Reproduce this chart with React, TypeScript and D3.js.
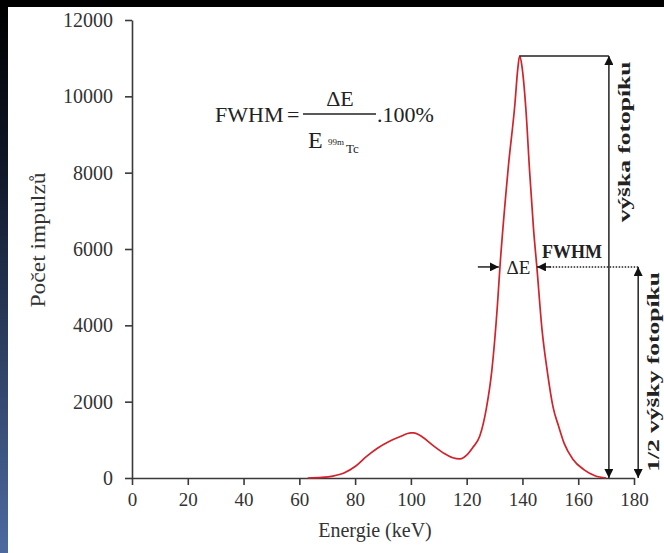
import { useEffect, useRef } from "react";
import * as d3 from "d3";

// spectrum of 99mTc photopeak (keV, counts)
const energy = [63, 68, 72, 76, 80, 84, 88, 92, 96, 100, 101, 104, 108, 112, 115, 117.6, 120, 122.2, 124.7, 127, 129, 131, 132, 134, 135, 137.3, 138.3, 139, 139.8, 141.2, 142.6, 144, 145.2, 147, 149, 151, 153, 155, 158, 162, 166, 170];
const counts = [0, 15, 50, 130, 300, 560, 780, 950, 1080, 1180, 1180, 1080, 850, 640, 530, 500, 600, 800, 1100, 1800, 2800, 4500, 5600, 7400, 8200, 9800, 10700, 11060, 10800, 9700, 8000, 6500, 5500, 3900, 2750, 1850, 1350, 900, 500, 220, 60, 0];

const xTicks = [0, 20, 40, 60, 80, 100, 120, 140, 160, 180];
const yTicks = [0, 2000, 4000, 6000, 8000, 10000, 12000];

const peakEnergy = 139;
const peakCount = 11060;
const halfCount = 5530;
const fwhmLeft = 131.9;
const fwhmRight = 145.2;
const heightArrowE = 171;
const halfArrowE = 181.5;

const serif = "'Liberation Serif', 'Times New Roman', serif";

const App = () => {
  const svgRef = useRef(null);

  useEffect(() => {
    const width = 664;
    const height = 553;

    const svg = d3.select(svgRef.current);
    svg.selectAll("*").remove();

    const x = d3.scaleLinear().domain([0, 180]).range([132, 634]);
    const y = d3.scaleLinear().domain([0, 12000]).range([478, 20]);

    // frame: black top band and gradient strip on the left
    const defs = svg.append("defs");
    const grad = defs.append("linearGradient")
      .attr("id", "side").attr("x1", 0).attr("y1", 0).attr("x2", 0).attr("y2", 1);
    grad.append("stop").attr("offset", "0%").attr("stop-color", "#000");
    grad.append("stop").attr("offset", "30%").attr("stop-color", "#10182a");
    grad.append("stop").attr("offset", "100%").attr("stop-color", "#4d6aa0");

    const mk = (id, dir) => {
      const m = defs.append("marker")
        .attr("id", id)
        .attr("viewBox", "0 0 10 10")
        .attr("refX", 10).attr("refY", 5)
        .attr("markerWidth", 9).attr("markerHeight", 9)
        .attr("markerUnits", "userSpaceOnUse")
        .attr("orient", dir);
      m.append("path").attr("d", "M0,0L10,5L0,10Z").attr("fill", "#111");
    };
    mk("arrEnd", "auto");
    mk("arrStart", "auto-start-reverse");

    svg.append("rect").attr("width", width).attr("height", height).attr("fill", "#fff");
    svg.append("rect").attr("width", width).attr("height", 7).attr("fill", "#000");
    svg.append("rect").attr("y", 7).attr("width", 8).attr("height", height - 7).attr("fill", "url(#side)");

    const axisColor = "#3a3a3a";

    // y axis
    const ya = svg.append("g")
      .attr("transform", `translate(${x(0)},0)`)
      .call(d3.axisLeft(y).tickValues(yTicks).tickFormat(d3.format("d")).tickSize(7).tickPadding(12).tickSizeOuter(0));
    ya.select(".domain").attr("stroke", axisColor).attr("stroke-width", 1.6);
    ya.selectAll(".tick line").attr("stroke", axisColor).attr("stroke-width", 1.6);
    ya.selectAll(".tick text")
      .attr("font-family", serif).attr("font-size", 20).attr("fill", "#333");

    // x axis
    const xa = svg.append("g")
      .attr("transform", `translate(0,${y(0)})`)
      .call(d3.axisBottom(x).tickValues(xTicks).tickFormat(d3.format("d")).tickSize(7).tickPadding(8).tickSizeOuter(0));
    xa.select(".domain").attr("stroke", axisColor).attr("stroke-width", 1.6);
    xa.selectAll(".tick line").attr("stroke", axisColor).attr("stroke-width", 1.6);
    xa.selectAll(".tick text")
      .attr("font-family", serif).attr("font-size", 19).attr("fill", "#333");

    // axis titles
    svg.append("text")
      .attr("x", (x(0) + x(180)) / 2 - 8)
      .attr("y", 537)
      .attr("text-anchor", "middle")
      .attr("font-family", serif).attr("font-size", 20).attr("fill", "#333")
      .text("Energie (keV)");

    svg.append("text")
      .attr("transform", `translate(45,${240}) rotate(-90) scale(1.12,1)`)
      .attr("text-anchor", "middle")
      .attr("font-family", serif).attr("font-size", 21).attr("fill", "#333")
      .text("Počet impulzů");

    // spectrum
    const line = d3.line()
      .x((d) => x(d[0]))
      .y((d) => y(d[1]))
      .curve(d3.curveMonotoneX);
    svg.append("path")
      .datum(energy.map((e, i) => [e, counts[i]]))
      .attr("fill", "none")
      .attr("stroke", "#d0232b")
      .attr("stroke-width", 1.7)
      .attr("d", line);

    const ann = svg.append("g").attr("stroke", "#222").attr("stroke-width", 1.5).attr("fill", "none");

    // peak height
    ann.append("line")
      .attr("x1", x(peakEnergy)).attr("x2", x(heightArrowE))
      .attr("y1", y(peakCount)).attr("y2", y(peakCount));
    ann.append("line")
      .attr("x1", x(heightArrowE)).attr("x2", x(heightArrowE))
      .attr("y1", y(peakCount)).attr("y2", y(0))
      .attr("marker-start", "url(#arrStart)")
      .attr("marker-end", "url(#arrEnd)");

    // half height
    ann.append("line")
      .attr("x1", x(halfArrowE)).attr("x2", x(halfArrowE))
      .attr("y1", y(halfCount)).attr("y2", y(0))
      .attr("marker-start", "url(#arrStart)")
      .attr("marker-end", "url(#arrEnd)");
    ann.append("line")
      .attr("x1", x(halfArrowE)).attr("x2", x(fwhmRight) + 12)
      .attr("y1", y(halfCount)).attr("y2", y(halfCount))
      .attr("stroke-dasharray", "1.5,1.5");
    ann.append("line")
      .attr("x1", x(fwhmRight) + 14).attr("x2", x(fwhmRight))
      .attr("y1", y(halfCount)).attr("y2", y(halfCount))
      .attr("marker-end", "url(#arrEnd)");
    ann.append("line")
      .attr("x1", x(fwhmLeft) - 22).attr("x2", x(fwhmLeft) - 1)
      .attr("y1", y(halfCount)).attr("y2", y(halfCount))
      .attr("marker-end", "url(#arrEnd)");

    svg.append("text")
      .attr("x", (x(fwhmLeft) + x(fwhmRight)) / 2)
      .attr("y", y(halfCount) + 7)
      .attr("text-anchor", "middle")
      .attr("font-family", serif).attr("font-size", 19).attr("fill", "#222")
      .text("ΔE");

    svg.append("text")
      .attr("x", x(fwhmRight) + 5)
      .attr("y", y(halfCount) - 9)
      .attr("font-family", serif).attr("font-size", 18).attr("font-weight", "bold").attr("fill", "#222")
      .text("FWHM");

    svg.append("text")
      .attr("transform", `translate(${x(heightArrowE) + 21},${142}) rotate(-90) scale(1.5,1)`)
      .attr("text-anchor", "middle")
      .attr("font-family", serif).attr("font-size", 17).attr("font-weight", "bold").attr("fill", "#222")
      .text("výška fotopíku");

    svg.append("text")
      .attr("transform", `translate(${x(halfArrowE) + 21},${372}) rotate(-90) scale(1.5,1)`)
      .attr("text-anchor", "middle")
      .attr("font-family", serif).attr("font-size", 17).attr("font-weight", "bold").attr("fill", "#222")
      .text("1/2 výšky fotopíku");

    // formula
    const f = svg.append("g").attr("font-family", serif).attr("fill", "#222");
    f.append("text").attr("x", 215).attr("y", 122).attr("font-size", 22).text("FWHM");
    f.append("text").attr("x", 287).attr("y", 122).attr("font-size", 22).text("=");
    f.append("line")
      .attr("x1", 303).attr("x2", 376).attr("y1", 114).attr("y2", 114)
      .attr("stroke", "#222").attr("stroke-width", 1.3);
    f.append("text").attr("x", 340).attr("y", 106).attr("text-anchor", "middle").attr("font-size", 22).text("ΔE");
    f.append("text").attr("x", 308).attr("y", 148).attr("font-size", 24).text("E");
    f.append("text").attr("x", 328).attr("y", 145).attr("font-size", 9).text("99m");
    f.append("text").attr("x", 346).attr("y", 153).attr("font-size", 13).text("Tc");
    f.append("text").attr("x", 377).attr("y", 122).attr("font-size", 22).text(".100%");
  }, []);

  return (
    <div style={{ position: "absolute", left: 0, top: 0 }}>
      <svg ref={svgRef} width={664} height={553} style={{ display: "block" }}></svg>
    </div>
  );
};

export default App;
